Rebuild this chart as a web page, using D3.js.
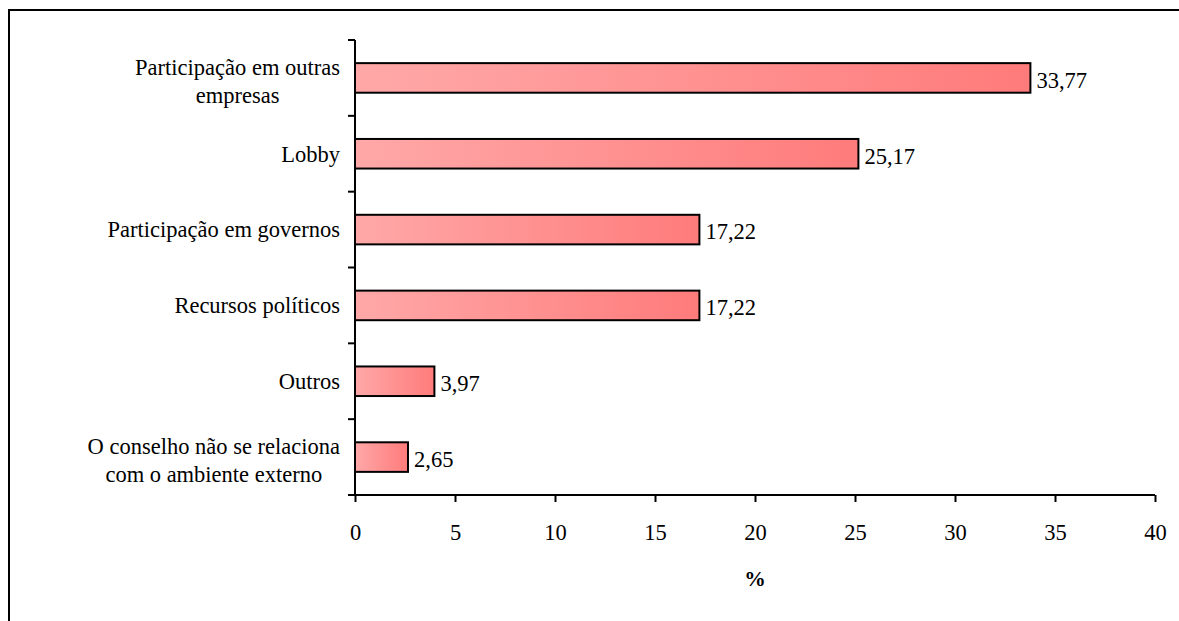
<!DOCTYPE html>
<html>
<head>
<meta charset="utf-8">
<script src="https://cdn.jsdelivr.net/npm/d3@7"></script>
<style>
  body { margin: 0; background: #fff; }
</style>
</head>
<body>
<script>
// categorias (de cima para baixo) e valores em %
var categorias = [
    ["Participação em outras", "empresas"],
    ["Lobby"],
    ["Participação em governos"],
    ["Recursos políticos"],
    ["Outros"],
    ["O conselho não se relaciona", "com o ambiente externo"]
];
var valores = [33.77, 25.17, 17.22, 17.22, 3.97, 2.65];
var rotulosValores = ["33,77", "25,17", "17,22", "17,22", "3,97", "2,65"];
var ticksX = [0, 5, 10, 15, 20, 25, 30, 35, 40];
var tituloX = "%";

var width = 1179, height = 621;
var pxLeft = 355, pxRight = 1155, pxTop = 40, pxBottom = 495;
var fs = 22.5;
var fonte = "Liberation Serif, DejaVu Serif, serif";

var svg = d3.select("body").append("svg")
    .attr("width", width)
    .attr("height", height)
    .attr("font-family", fonte);

// moldura (cortada na direita e embaixo)
svg.append("rect")
    .attr("x", 9).attr("y", 10)
    .attr("width", 1200).attr("height", 700)
    .attr("fill", "none").attr("stroke", "#000").attr("stroke-width", 2);

var grad = svg.append("defs").append("linearGradient")
    .attr("id", "gradBarra")
    .attr("x1", "0%").attr("x2", "100%").attr("y1", "0%").attr("y2", "0%");
grad.append("stop").attr("offset", "0%").attr("stop-color", "#ffa8a8");
grad.append("stop").attr("offset", "100%").attr("stop-color", "#ff7b7b");

var dados = categorias.map(function(c, i) { return { idx: i, linhas: c, v: valores[i], rot: rotulosValores[i] }; });

var x = d3.scaleLinear().domain([0, 40]).range([pxLeft, pxRight]);
var y = d3.scaleBand().domain(d3.range(categorias.length)).range([pxTop, pxBottom])
    .paddingInner(0.61).paddingOuter(0.305);

// barras
svg.selectAll("rect.barra").data(dados).enter()
    .append("rect")
    .attr("class", "barra")
    .attr("x", x(0))
    .attr("y", function(d) { return y(d.idx); })
    .attr("width", function(d) { return x(d.v) - x(0); })
    .attr("height", y.bandwidth())
    .attr("fill", "url(#gradBarra)")
    .attr("stroke", "#000").attr("stroke-width", 2);

// rótulos de valor
svg.selectAll("text.valor").data(dados).enter()
    .append("text")
    .attr("class", "valor")
    .attr("x", function(d) { return x(d.v) + 6; })
    .attr("y", function(d) { return y(d.idx) + y.bandwidth() / 2 + 2; })
    .attr("dy", "0.35em")
    .attr("font-size", fs)
    .attr("font-family", fonte)
    .text(function(d) { return d.rot; });

// eixo y (linha e ticks nos limites das categorias)
var passo = y.step();
var yEixo = svg.append("g").attr("stroke", "#000").attr("stroke-width", 2);
yEixo.append("line").attr("x1", pxLeft).attr("x2", pxLeft).attr("y1", pxTop).attr("y2", pxBottom);
yEixo.selectAll("line.tk").data(d3.range(categorias.length + 1)).enter()
    .append("line").attr("class", "tk")
    .attr("x1", pxLeft - 7).attr("x2", pxLeft)
    .attr("y1", function(i) { return pxTop + i * passo; })
    .attr("y2", function(i) { return pxTop + i * passo; });

// rótulos das categorias
var lh = 28;
var grupos = svg.selectAll("g.cat").data(dados).enter().append("g").attr("class", "cat");
grupos.each(function(d) {
    var g = d3.select(this);
    var cy = y(d.idx) + y.bandwidth() / 2;
    var n = d.linhas.length;
    var ts = g.selectAll("text").data(d.linhas).enter().append("text")
        .attr("font-size", fs)
        .attr("font-family", fonte)
        .attr("y", function(l, j) { return cy + (j - (n - 1) / 2) * lh + (n - 1) * 3; })
        .attr("dy", "0.35em")
        .text(function(l) { return l; });
    var maxW = 0;
    ts.each(function() { maxW = Math.max(maxW, this.getComputedTextLength()); });
    var cx = pxLeft - 15 - maxW / 2;
    ts.attr("x", cx).attr("text-anchor", "middle");
});

// eixo x
var xAxis = d3.axisBottom(x).tickValues(ticksX).tickSize(7).tickPadding(22).tickFormat(d3.format("d"));
var gx = svg.append("g").attr("transform", "translate(0," + pxBottom + ")").call(xAxis);
gx.attr("font-family", fonte);
gx.select(".domain").attr("d", "M" + (pxLeft - 7) + ",0H" + pxRight).attr("stroke-width", 2);
gx.selectAll(".tick line").attr("stroke-width", 2);
gx.selectAll(".tick text").attr("font-size", fs).attr("font-family", fonte);

svg.append("text")
    .attr("x", (pxLeft + pxRight) / 2)
    .attr("y", 586)
    .attr("text-anchor", "middle")
    .attr("font-size", fs - 1)
    .attr("font-weight", "bold")
    .attr("font-family", fonte)
    .text(tituloX);
</script>
</body>
</html>
